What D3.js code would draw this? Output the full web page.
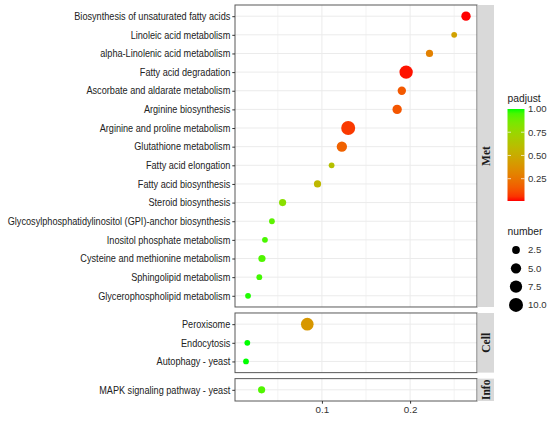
<!DOCTYPE html>
<html>
<head>
<meta charset="utf-8">
<script src="https://cdn.jsdelivr.net/npm/d3@7"></script>
<style>
body { margin: 0; background: #fff; }
</style>
</head>
<body>
<svg id="chart" style="font-family: 'Liberation Sans', Arial, sans-serif"></svg>
<script>

// facet groups, top to bottom
var panels = ["Met", "Cell", "Info"]

var pathways = [
  "Biosynthesis of unsaturated fatty acids",
  "Linoleic acid metabolism",
  "alpha-Linolenic acid metabolism",
  "Fatty acid degradation",
  "Ascorbate and aldarate metabolism",
  "Arginine biosynthesis",
  "Arginine and proline metabolism",
  "Glutathione metabolism",
  "Fatty acid elongation",
  "Fatty acid biosynthesis",
  "Steroid biosynthesis",
  "Glycosylphosphatidylinositol (GPI)-anchor biosynthesis",
  "Inositol phosphate metabolism",
  "Cysteine and methionine metabolism",
  "Sphingolipid metabolism",
  "Glycerophospholipid metabolism",
  "Peroxisome",
  "Endocytosis",
  "Autophagy - yeast",
  "MAPK signaling pathway - yeast"
]
var category = ["Met","Met","Met","Met","Met","Met","Met","Met","Met","Met",
  "Met","Met","Met","Met","Met","Met","Cell","Cell","Cell","Info"]
var ratio = [0.2634, 0.250, 0.222, 0.1955, 0.1906, 0.1853, 0.1298, 0.1226, 0.111, 0.095,
  0.0554, 0.0433, 0.0354, 0.032, 0.029, 0.0162, 0.0834, 0.0154, 0.0139, 0.0316]
var padjust = [0.01, 0.45, 0.30, 0.02, 0.15, 0.14, 0.07, 0.18, 0.62, 0.57,
  0.80, 0.92, 0.95, 0.94, 0.96, 0.99, 0.40, 1.00, 1.00, 0.94]
var number = [4, 1, 2, 9, 3, 4, 10, 5, 1, 2,
  2, 1, 1, 2, 1, 1, 8, 1, 1, 2]

var xTicks = [0.1, 0.2]
var xMinor = [0.05, 0.15, 0.25]
var colorTicks = [0.25, 0.50, 0.75, 1.00]
var sizeTicks = [2.5, 5.0, 7.5, 10.0]

var screen = {width: 550, height: 421}
var plot = {left: 235, right: 477, top: 5, bottom: 401}
var gap = 6
var stripWidth = 16.5
var squeeze = 0.915   // the reference text is a little narrow

var svg = d3.select("#chart")
  .attr("width", screen.width)
  .attr("height", screen.height)

svg.append("rect")
  .attr("width", screen.width)
  .attr("height", screen.height)
  .attr("fill", "#fff")

var rows = pathways.map(function(d, i){
  return {name: d, cat: category[i], x: ratio[i], p: padjust[i], n: number[i]}
})

// x scale with ggplot style 5% expansion
var xExt = d3.extent(ratio)
var xPad = (xExt[1] - xExt[0]) * 0.05
var xScale = d3.scaleLinear()
  .domain([xExt[0] - xPad, xExt[1] + xPad])
  .range([plot.left, plot.right])

var colorScale = d3.scaleLinear()
  .domain(d3.extent(padjust))
  .range(["#ff0000", "#00ff00"])
  .interpolate(d3.interpolateLab)

var areaScale = d3.scaleLinear()
  .domain(d3.extent(number))
  .range([8.4, 49])
var radius = function(n){ return Math.sqrt(areaScale(n)) }

// free space facets: each panel gets (rows - 1 + 1.2) units
var counts = panels.map(function(p){
  return rows.filter(function(r){ return r.cat == p }).length
})
var totalUnits = d3.sum(counts, function(c){ return c - 1 + 1.2 })
var unit = (plot.bottom - plot.top - gap * (panels.length - 1)) / totalUnits

var y0 = plot.top
panels.forEach(function(p, k){
  var data = rows.filter(function(r){ return r.cat == p })
  var h = (counts[k] - 1 + 1.2) * unit
  var top = y0, bottom = y0 + h
  y0 = bottom + gap

  var yScale = d3.scalePoint()
    .domain(data.map(function(d){ return d.name }))
    .range([top, bottom])
    .padding(0.6)

  var g = svg.append("g")

  // grid
  g.selectAll(".vgrid")
    .data(xMinor.concat(xTicks))
    .enter()
    .append("line")
    .attr("x1", function(d){ return xScale(d) })
    .attr("x2", function(d){ return xScale(d) })
    .attr("y1", top)
    .attr("y2", bottom)
    .attr("stroke", "#ebebeb")
    .attr("stroke-width", function(d){ return xTicks.indexOf(d) >= 0 ? 1 : 0.6 })

  g.selectAll(".hgrid")
    .data(data)
    .enter()
    .append("line")
    .attr("x1", plot.left)
    .attr("x2", plot.right)
    .attr("y1", function(d){ return yScale(d.name) })
    .attr("y2", function(d){ return yScale(d.name) })
    .attr("stroke", "#ebebeb")
    .attr("stroke-width", 1)

  g.selectAll("circle")
    .data(data)
    .enter()
    .append("circle")
    .attr("cx", function(d){ return xScale(d.x) })
    .attr("cy", function(d){ return yScale(d.name) })
    .attr("r", function(d){ return radius(d.n) })
    .attr("fill", function(d){ return colorScale(d.p) })

  g.append("rect")
    .attr("x", plot.left)
    .attr("y", top)
    .attr("width", plot.right - plot.left)
    .attr("height", h)
    .attr("fill", "none")
    .attr("stroke", "#595959")
    .attr("stroke-width", 1)

  var yAxis = d3.axisLeft(yScale).tickSize(2.7).tickPadding(2)
  var ya = g.append("g")
    .attr("transform", "translate(" + plot.left + ",0)")
    .call(yAxis)
  ya.select(".domain").remove()
  ya.selectAll("line").attr("stroke", "#333")
  ya.selectAll("text")
    .attr("x", -4.7 / squeeze)
    .attr("transform", "scale(" + squeeze + ",1)")
    .attr("fill", "#222")
    .style("font-size", "10px")
    .style("font-family", "'Liberation Sans', Arial, sans-serif")

  // strip
  g.append("rect")
    .attr("x", plot.right + 0.5)
    .attr("y", top)
    .attr("width", stripWidth)
    .attr("height", h)
    .attr("fill", "#d9d9d9")

  g.append("text")
    .attr("transform", "translate(" + (plot.right + 0.5 + stripWidth / 2) + "," + ((top + bottom) / 2) + ") rotate(-90)")
    .attr("text-anchor", "middle")
    .attr("dy", "0.35em")
    .style("font-family", "'Liberation Serif', 'Times New Roman', serif")
    .style("font-weight", "bold")
    .style("font-size", "11.5px")
    .attr("fill", "#1a1a1a")
    .text(p)
})

// x axis
var xAxis = d3.axisBottom(xScale).tickValues(xTicks).tickSize(2.7).tickPadding(2)
  .tickFormat(d3.format(".1f"))
var xa = svg.append("g")
  .attr("transform", "translate(0," + plot.bottom + ")")
  .call(xAxis)
xa.select(".domain").remove()
xa.selectAll("line").attr("stroke", "#333")
xa.selectAll("text")
  .attr("fill", "#333")
  .style("font-size", "9.8px")
  .style("font-family", "'Liberation Sans', Arial, sans-serif")

// colour legend
var bar = {x: 507.5, w: 17, top: 109, bottom: 201}
var pExt = d3.extent(padjust)
var barScale = d3.scaleLinear().domain(pExt).range([bar.bottom, bar.top])

var grad = svg.append("defs").append("linearGradient")
  .attr("id", "padjGrad")
  .attr("x1", 0).attr("y1", 1).attr("x2", 0).attr("y2", 0)
grad.selectAll("stop")
  .data(d3.range(0, 1.0001, 0.05))
  .enter()
  .append("stop")
  .attr("offset", function(d){ return d })
  .attr("stop-color", function(d){ return colorScale(pExt[0] + d * (pExt[1] - pExt[0])) })

svg.append("text")
  .attr("x", bar.x)
  .attr("y", 101.5)
  .style("font-size", "10.3px")
  .attr("fill", "#222")
  .text("padjust")

svg.append("rect")
  .attr("x", bar.x)
  .attr("y", bar.top)
  .attr("width", bar.w)
  .attr("height", bar.bottom - bar.top)
  .attr("fill", "url(#padjGrad)")

svg.selectAll(".cbtick")
  .data(colorTicks.filter(function(d){ return d < pExt[1] }))
  .enter()
  .append("g")
  .each(function(d){
    var yy = barScale(d)
    d3.select(this).append("line")
      .attr("x1", bar.x).attr("x2", bar.x + 3.5).attr("y1", yy).attr("y2", yy)
      .attr("stroke", "#fff").attr("stroke-opacity", 0.7)
    d3.select(this).append("line")
      .attr("x1", bar.x + bar.w - 3.5).attr("x2", bar.x + bar.w).attr("y1", yy).attr("y2", yy)
      .attr("stroke", "#fff").attr("stroke-opacity", 0.7)
  })

svg.selectAll(".cblab")
  .data(colorTicks)
  .enter()
  .append("text")
  .attr("x", 528)
  .attr("y", function(d){ return barScale(d) })
  .attr("dy", "0.35em")
  .style("font-size", "9.6px")
  .attr("fill", "#333")
  .text(function(d){ return d3.format(".2f")(d) })

// size legend
svg.append("text")
  .attr("x", bar.x)
  .attr("y", 234.5)
  .style("font-size", "10.3px")
  .attr("fill", "#222")
  .text("number")

var sizeKeys = svg.selectAll(".skey")
  .data(sizeTicks)
  .enter()
  .append("g")
  .attr("transform", function(d, i){ return "translate(516," + (250 + i * 18.3) + ")" })
sizeKeys.append("circle")
  .attr("r", function(d){ return radius(d) })
  .attr("fill", "#000")
sizeKeys.append("text")
  .attr("x", 12)
  .attr("dy", "0.35em")
  .style("font-size", "9.6px")
  .attr("fill", "#333")
  .text(function(d){ return d3.format(".1f")(d) })

</script>
</body>
</html>
